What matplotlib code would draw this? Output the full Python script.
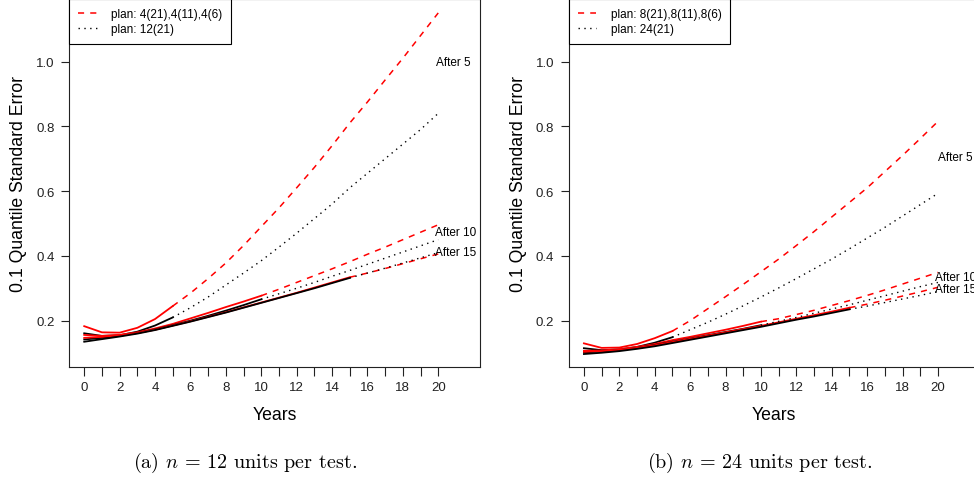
import numpy as np
import matplotlib
matplotlib.use("Agg")
import matplotlib.pyplot as plt

plt.rcParams['font.family'] = ['Liberation Sans', 'DejaVu Sans']
plt.rcParams['mathtext.fontset'] = 'cm'

# years of the solid (observed) parts and of the extrapolated parts
yrs5 = np.arange(0, 6)
yrs10 = np.arange(0, 11)
yrs15 = np.arange(0, 16)
ext5 = np.arange(5, 21)
ext10 = np.arange(10, 21)
ext15 = np.arange(15, 21)

# panel (a), n = 12
a_red5 = [0.183, 0.164, 0.163, 0.178, 0.205, 0.245]
a_blk5 = [0.161, 0.153, 0.155, 0.166, 0.185, 0.21]
a_red10 = [0.156, 0.153, 0.156, 0.164, 0.176, 0.19, 0.207, 0.224, 0.242, 0.259, 0.277]
a_blk10 = [0.142, 0.147, 0.153, 0.162, 0.173, 0.186, 0.2, 0.215, 0.231, 0.248, 0.266]
a_red15 = [0.147, 0.150, 0.155, 0.162, 0.172, 0.185, 0.198, 0.212, 0.226, 0.241,
           0.256, 0.271, 0.286, 0.302, 0.318, 0.334]
a_blk15 = [0.135, 0.143, 0.151, 0.16, 0.171, 0.184, 0.197, 0.211, 0.225, 0.24,
           0.255, 0.27, 0.285, 0.3, 0.316, 0.332]
a_red5_ext = [0.245, 0.285, 0.33, 0.378, 0.432, 0.49, 0.548, 0.61, 0.673, 0.74,
              0.81, 0.875, 0.943, 1.01, 1.08, 1.15]
a_blk5_ext = [0.21, 0.24, 0.273, 0.31, 0.347, 0.385, 0.427, 0.47, 0.515, 0.56,
              0.61, 0.655, 0.70, 0.745, 0.79, 0.84]
a_red10_ext = [0.277, 0.297, 0.318, 0.339, 0.36, 0.382, 0.405, 0.427, 0.45, 0.473, 0.496]
a_blk10_ext = [0.266, 0.283, 0.3, 0.318, 0.337, 0.355, 0.374, 0.393, 0.412, 0.431, 0.45]
a_red15_ext = [0.334, 0.347, 0.361, 0.376, 0.391, 0.406]
a_blk15_ext = [0.332, 0.347, 0.362, 0.378, 0.394, 0.41]

# panel (b), n = 24
b_red5 = [0.130, 0.116, 0.117, 0.128, 0.146, 0.168]
b_blk5 = [0.115, 0.109, 0.111, 0.119, 0.132, 0.149]
b_red10 = [0.107, 0.108, 0.112, 0.119, 0.128, 0.140, 0.150, 0.161, 0.172, 0.184, 0.197]
b_blk10 = [0.102, 0.105, 0.109, 0.116, 0.125, 0.135, 0.145, 0.155, 0.165, 0.175, 0.186]
b_red15 = [0.104, 0.106, 0.11, 0.116, 0.124, 0.134, 0.144, 0.154, 0.164, 0.174,
           0.184, 0.195, 0.206, 0.217, 0.228, 0.24]
b_blk15 = [0.097, 0.101, 0.106, 0.113, 0.121, 0.131, 0.141, 0.151, 0.161, 0.171,
           0.181, 0.192, 0.203, 0.213, 0.224, 0.235]
b_red5_ext = [0.168, 0.2, 0.237, 0.274, 0.312, 0.351, 0.39, 0.432, 0.475, 0.52,
              0.565, 0.61, 0.66, 0.71, 0.762, 0.815]
b_blk5_ext = [0.149, 0.172, 0.195, 0.22, 0.246, 0.273, 0.301, 0.33, 0.36, 0.39,
              0.422, 0.455, 0.488, 0.523, 0.558, 0.593]
b_red10_ext = [0.197, 0.206, 0.219, 0.232, 0.247, 0.262, 0.278, 0.295, 0.313, 0.331, 0.349]
b_blk10_ext = [0.186, 0.198, 0.21, 0.223, 0.236, 0.249, 0.263, 0.277, 0.291, 0.305, 0.318]
b_red15_ext = [0.24, 0.251, 0.263, 0.276, 0.289, 0.303]
b_blk15_ext = [0.235, 0.245, 0.256, 0.267, 0.278, 0.29]

a_legend = ["plan: 4(21),4(11),4(6)", "plan: 12(21)"]
b_legend = ["plan: 8(21),8(11),8(6)", "plan: 24(21)"]
after_labels = ["After 5", "After 10", "After 15"]
a_label_pos = [(19.85, 1.0), (19.8, 0.475), (19.8, 0.413)]
b_label_pos = [(20.0, 0.706), (19.85, 0.334), (19.85, 0.298)]
captions = ["(a) $n$ = 12 units per test.", "(b) $n$ = 24 units per test."]

RED = "#FF0000"


def draw_panel(ax, solid, ext, legend, label_pos):
    red5, blk5, red10, blk10, red15, blk15 = solid
    red5e, blk5e, red10e, blk10e, red15e, blk15e = ext
    for yrs, r, b in [(yrs5, red5, blk5), (yrs10, red10, blk10), (yrs15, red15, blk15)]:
        ax.plot(yrs, r, color=RED, lw=1.3)
        ax.plot(yrs, b, color="black", lw=1.3)
    h1 = None
    h2 = None
    for yrs, r, b in [(ext5, red5e, blk5e), (ext10, red10e, blk10e), (ext15, red15e, blk15e)]:
        l1, = ax.plot(yrs, r, color=RED, lw=1.1, dashes=(4, 4))
        l2, = ax.plot(yrs, b, color="black", lw=1.0, dashes=(1, 3.2))
        if h1 is None:
            h1, h2 = l1, l2
    for txt, (x, y) in zip(after_labels, label_pos):
        ax.text(x, y, txt, fontsize=8.5, ha="left", va="center")

    ax.set_xlim(-0.86, 22.36)
    ax.set_ylim(0.057, 1.193)
    ax.set_xticks(range(0, 21))
    ax.set_xticklabels([str(i) if i % 2 == 0 else "" for i in range(0, 21)])
    ax.set_yticks([0.2, 0.4, 0.6, 0.8, 1.0])
    ax.set_yticklabels(["0.2", "0.4", "0.6", "0.8", "1.0"])
    ax.tick_params(axis="x", length=6.2, width=0.8, pad=4, labelsize=9.5, colors="#222222")
    ax.tick_params(axis="y", length=5.5, width=0.8, pad=5, labelsize=9.5, colors="#222222")
    for sp in ax.spines.values():
        sp.set_linewidth(0.8)
        sp.set_color("#222222")
    ax.set_xlabel("Years", fontsize=12.7)
    ax.set_ylabel("0.1 Quantile Standard Error", fontsize=12.7)
    ax.xaxis.label.set_va("center")
    ax.xaxis.set_label_coords(0.5, -0.128)
    ax.yaxis.label.set_va("center")
    ax.yaxis.set_label_coords(-0.122, 0.5)

    leg = ax.legend([h1, h2], legend, loc="upper left", borderaxespad=0,
                    fontsize=8.5, handlelength=1.6, handletextpad=1.2,
                    labelspacing=0.3, borderpad=0.75, fancybox=False,
                    framealpha=1, edgecolor="black")
    leg.get_frame().set_linewidth(0.8)


fig = plt.figure(figsize=(9.74, 4.81), dpi=100)
ax_a = fig.add_axes([69 / 974, 1 - 368 / 481, 411 / 974, 368 / 481])
ax_b = fig.add_axes([568.7 / 974, 1 - 368 / 481, 411 / 974, 368 / 481])

draw_panel(ax_a, (a_red5, a_blk5, a_red10, a_blk10, a_red15, a_blk15),
           (a_red5_ext, a_blk5_ext, a_red10_ext, a_blk10_ext, a_red15_ext, a_blk15_ext),
           a_legend, a_label_pos)
draw_panel(ax_b, (b_red5, b_blk5, b_red10, b_blk10, b_red15, b_blk15),
           (b_red5_ext, b_blk5_ext, b_red10_ext, b_blk10_ext, b_red15_ext, b_blk15_ext),
           b_legend, b_label_pos)

fig.text(245 / 974, 1 - 463 / 481, captions[0], family="cmr10", fontsize=14.5,
         ha="center", va="center")
fig.text(760 / 974, 1 - 463 / 481, captions[1], family="cmr10", fontsize=14.5,
         ha="center", va="center")

fig.savefig("out.png", dpi=100)
